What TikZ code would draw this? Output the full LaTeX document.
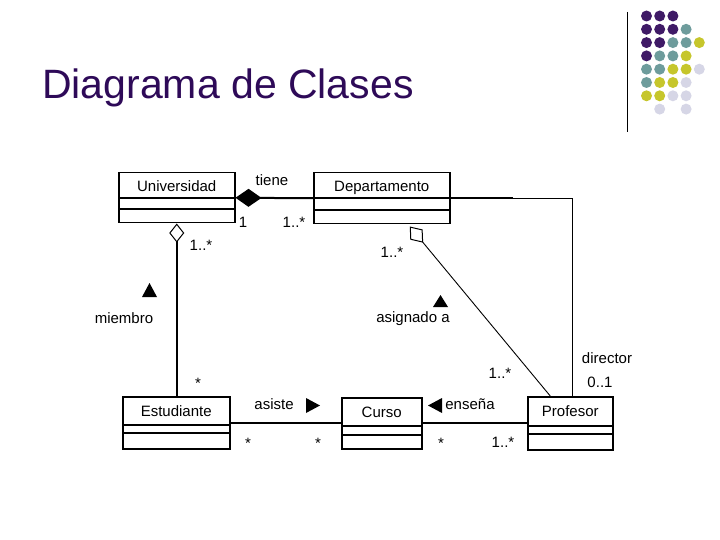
\documentclass[tikz,border=0pt]{standalone}
\usepackage{fontspec}
\setmainfont{Liberation Sans}
\usetikzlibrary{arrows.meta,positioning,calc}
\definecolor{titulo}{HTML}{2E0A58}
\definecolor{dotP}{HTML}{3F1A66}
\definecolor{dotT}{HTML}{6E9C9C}
\definecolor{dotY}{HTML}{C6C62C}
\definecolor{dotL}{HTML}{D6D6E6}

\begin{document}
\begin{tikzpicture}[x=1pt,y=-1pt,
    clase/.style={draw=black,line width=1.5pt,inner sep=0pt,anchor=north west},
    nombre/.style={font=\fontsize{15}{18}\selectfont,inner sep=0pt,anchor=base},
    etiq/.style={font=\fontsize{15}{18}\selectfont,inner sep=0pt,anchor=base},
    enlace/.style={draw=black,line width=2pt},
    fino/.style={draw=black,line width=0.9pt}]
  \useasboundingbox (0,0) rectangle (720,540);

  % title and decoration
  \node[font=\fontsize{41}{49}\selectfont,text=titulo,inner sep=0pt,anchor=base west] (titulo) at (42,99) {Diagrama de Clases};
  \draw[line width=1pt] (627.5,12) -- (627.5,132);
  \foreach \c/\r in {0/0,1/0,2/0,0/1,1/1,2/1,0/2,1/2,0/3}
    \fill[dotP] (646.5+13.2*\c,16+13.3*\r) circle[radius=5.5pt];
  \foreach \c/\r in {3/1,2/2,3/2,1/3,2/3,0/4,1/4,0/5}
    \fill[dotT] (646.5+13.2*\c,16+13.3*\r) circle[radius=5.5pt];
  \foreach \c/\r in {4/2,3/3,2/4,3/4,1/5,2/5,0/6,1/6}
    \fill[dotY] (646.5+13.2*\c,16+13.3*\r) circle[radius=5.5pt];
  \foreach \c/\r in {4/4,3/5,2/6,3/6,1/7,3/7}
    \fill[dotL] (646.5+13.2*\c,16+13.3*\r) circle[radius=5.5pt];

  % classes
  \foreach \n/\x/\y/\w/\h/\da/\db/\t in {
      univ/118/172/116/50/26/37/Universidad,
      depto/313/172/136/51/26/38/Departamento,
      est/122/396/107/52/29/37/Estudiante,
      curso/341/397/80/51/29/38/Curso,
      prof/527/396/85/53/30/38/Profesor} {
    \node[clase,minimum width=\w pt,minimum height=\h pt] (\n) at (\x,\y) {};
    \node[nombre] (\n-t) at ($(\n.north)+(0,20)$) {\t};
    \draw[line width=1.2pt] ($(\n.north west)+(0,\da)$) -- ($(\n.north east)+(0,\da)$);
    \draw[line width=1.2pt] ($(\n.north west)+(0,\db)$) -- ($(\n.north east)+(0,\db)$);
  }

  % associations
  \draw[enlace,{Diamond[length=26pt,width=18pt]}-] (univ.east) -- (depto.west);
  \draw[enlace,{Diamond[open,length=19pt,width=15pt,line width=1pt]}-] (univ.south) -- (univ.south |- est.north);
  \coordinate (dA) at ($(depto.south)+(28,2)$);
  \coordinate (pA) at ($(prof.north)+(-20,0)$);
  \draw[fino,{Diamond[open,length=21pt,width=16pt,line width=1pt]}-] (dA) -- (pA);
  \coordinate (dir) at ($(prof.north)+(2,0)$);
  \draw[line width=1.2pt] (depto.east) -| (dir);
  \draw[enlace] (depto.east) -- ++(62,0);
  \draw[enlace] (est.east) -- (est.east -| curso.west);
  \draw[enlace] (curso.east) -- (curso.east -| prof.west);

  % role names and multiplicities
  \foreach \n/\x/\y/\t in {
      tiene/272/186/tiene, mU/243/227/1, mD/294/227/1..*,
      mUe/201/251/1..*, miembro/124/323/miembro, mE/198/388/*,
      mDp/392/258/1..*, asignado/413/322/asignado a, mP/500/378/1..*,
      director/607/363/director, mDir/600/387/0..1,
      asiste/274/409/asiste, ensena/470/409/enseña,
      mEc/248/448/*, mCe/318/448/*, mCp/441/448/*, mPc/503/447/1..*}
    \node[etiq] (\n) at (\x,\y) {\t};

  % reading direction marks
  \fill (142,297) -- (157,297) -- (149.5,283) -- cycle;
  \fill (433,307) -- (448,307) -- (440.5,295) -- cycle;
  \fill (306,398) -- (306,413) -- (320,405.5) -- cycle;
  \fill (442,398) -- (442,413) -- (428,405.5) -- cycle;
\end{tikzpicture}
\end{document}
